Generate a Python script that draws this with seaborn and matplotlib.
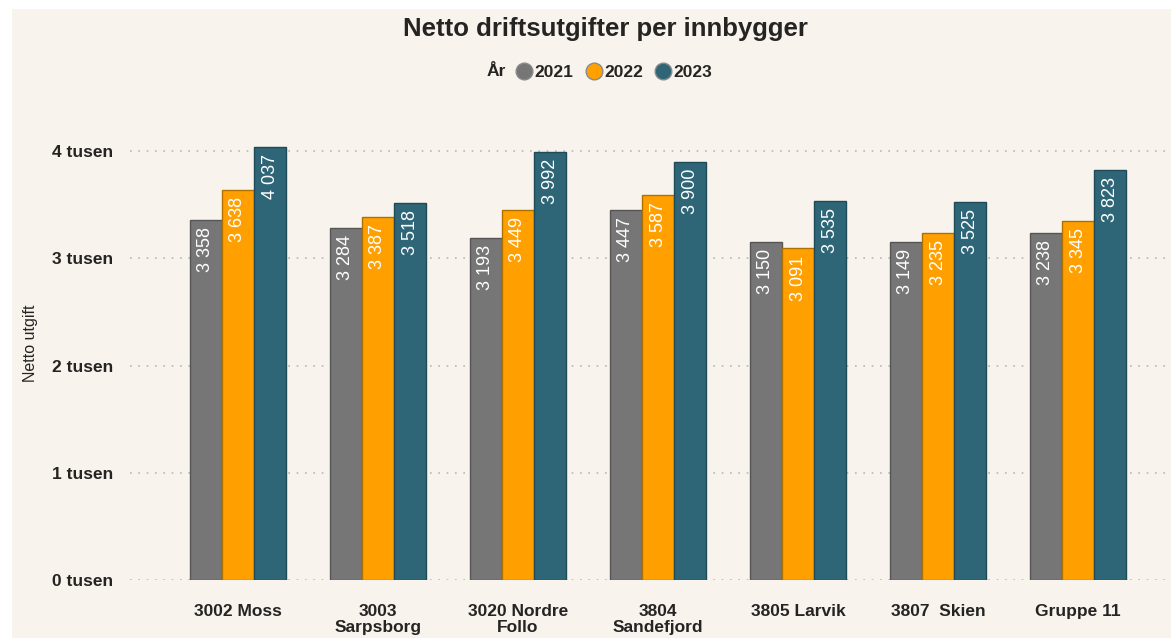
import matplotlib
matplotlib.use("Agg")
import matplotlib.pyplot as plt
import seaborn as sns
import pandas as pd
from matplotlib.lines import Line2D
from matplotlib.patches import Rectangle

categories = ["3002 Moss", "3003\nSarpsborg", "3020 Nordre\nFollo", "3804\nSandefjord",
              "3805 Larvik", "3807  Skien", "Gruppe 11"]
years = ["2021", "2022", "2023"]
v2021 = [3358, 3284, 3193, 3447, 3150, 3149, 3238]
v2022 = [3638, 3387, 3449, 3587, 3091, 3235, 3345]
v2023 = [4037, 3518, 3992, 3900, 3535, 3525, 3823]
colors = ["#767676", "#FFA000", "#2E6677"]
edge_colors = ["#555555", "#B07000", "#1F4A57"]

rows = []
for y, vals in zip(years, [v2021, v2022, v2023]):
    for c, v in zip(categories, vals):
        rows.append({"Kommune": c, "År": y, "Verdi": v})
df = pd.DataFrame(rows)

sns.set_theme(style="white")
plt.rcParams['font.family'] = ['Liberation Sans', 'DejaVu Sans']
bg = "#F8F3EC"
fig = plt.figure(figsize=(11.71, 6.38), dpi=100, facecolor=bg)
ax = fig.add_axes([130/1171, 1 - 580/638, (1165-130)/1171, (580-100)/638])
ax.set_facecolor(bg)

sns.barplot(data=df, x="Kommune", y="Verdi", hue="År", palette=colors,
            order=categories, hue_order=years, width=0.69, ax=ax,
            legend=False, saturation=1)

for i, cont in enumerate(ax.containers):
    for bar in cont:
        bar.set_edgecolor(edge_colors[i])
        bar.set_linewidth(1.0)
        h = bar.get_height()
        lab = f"{int(round(h)):,}".replace(",", " ")
        ax.text(bar.get_x() + bar.get_width()/2, h - 65, lab, rotation=90,
                ha="center", va="top", color="white", fontsize=13)

ymax = (580 - 100) / 107.25 * 1000
ax.set_ylim(0, ymax)
ax.set_xlim(-0.77, 6.62)
ax.set_yticks([0, 1000, 2000, 3000, 4000])
ax.set_yticklabels(["0 tusen", "1 tusen", "2 tusen", "3 tusen", "4 tusen"],
                   fontweight="bold", fontsize=12.5, color="#252423")
ax.tick_params(axis="y", length=0, pad=12)
ax.tick_params(axis="x", length=0, pad=17)
for lbl in ax.get_xticklabels():
    lbl.set_fontweight("bold")
    lbl.set_fontsize(12.5)
    lbl.set_color("#252423")
    lbl.set_linespacing(1.15)
ax.grid(axis="y", linestyle=(0, (1, 4)), color="#B8B8B8", linewidth=1.2)
ax.set_axisbelow(True)
for s in ax.spines.values():
    s.set_visible(False)
ax.set_xlabel("")
ax.set_ylabel("Netto utgift", fontsize=11.5, color="#252423")
ax.yaxis.set_label_coords((31 - 130) / (1165 - 130), (580 - 343) / 480)
ax.yaxis.label.set_va("center")

fig.text(605/1171, 1 - 29/638, "Netto driftsutgifter per innbygger", ha="center",
         va="center", fontsize=18.5, fontweight="bold", color="#252423")

handles = [Line2D([], [], marker="o", linestyle="", markersize=12,
                  markerfacecolor=c, markeredgecolor="#8a8a8a", markeredgewidth=1.0)
           for c in colors]
leg = fig.legend(handles, years, loc="center", bbox_to_anchor=(613/1171, 1 - 72/638),
                 ncol=3, frameon=False, handletextpad=0.0, columnspacing=0.55,
                 handlelength=1.2, prop={"weight": "bold", "size": 12.5})
for t in leg.get_texts():
    t.set_color("#252423")
fig.text(496/1171, 1 - 72/638, "År", ha="center", va="center", fontsize=12.5,
         fontweight="bold", color="#252423")

fig.patches.append(Rectangle((0, 1 - 9/638), 1, 9/638, transform=fig.transFigure,
                             facecolor="white", edgecolor="none", zorder=-1))
fig.patches.append(Rectangle((0, 0), 12/1171, 1, transform=fig.transFigure,
                             facecolor="white", edgecolor="none", zorder=-1))

fig.savefig("out.png", dpi=100, facecolor=bg)
